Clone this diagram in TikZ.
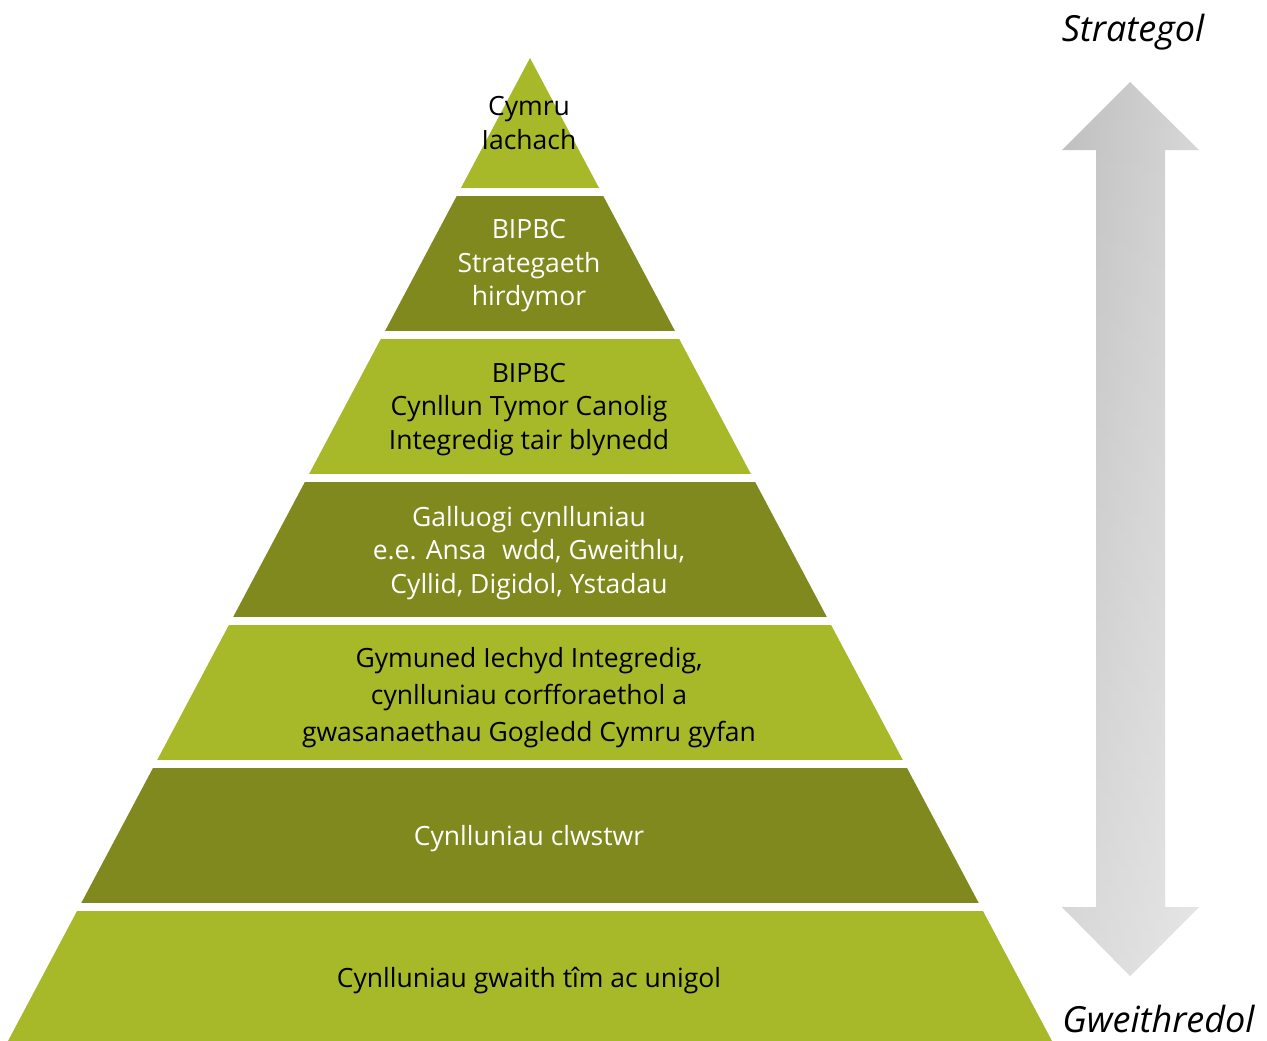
\documentclass[tikz,border=0pt]{standalone}
\usepackage{fontspec}
\setmainfont{Open Sans}
\usetikzlibrary{fadings}
\definecolor{lightolive}{HTML}{A7B829}
\definecolor{darkolive}{HTML}{7F891E}
\definecolor{arrowleft}{HTML}{BFBFBF}
\definecolor{arrowright}{HTML}{D6D6D6}
\newcommand{\myarrowpath}{(1130,82) -- (1199,150) -- (1165,150) -- (1165,907) -- (1199,907) -- (1130,976)
  -- (1062,907) -- (1096,907) -- (1096,150) -- (1062,150) -- cycle}
\begin{document}
\begin{tikzpicture}[x=1pt,y=-1pt,
  bandtext/.style={align=center,font=\fontsize{26.5}{33.5}\selectfont,inner sep=0pt},
  darktext/.style={bandtext,text=white},
  lighttext/.style={bandtext,text=black},
  sidelabel/.style={font=\fontsize{36}{40}\selectfont\itshape,inner sep=0pt}]
\useasboundingbox (0,0) rectangle (1267,1041);
\fill[white] (0,0) rectangle (1267,1041);
% pyramid bands
\begin{scope}
\clip (530,58) -- (8,1041) -- (1052,1041) -- cycle;
\fill[lightolive] (0,50) rectangle (1267,188);
\fill[darkolive] (0,196) rectangle (1267,331);
\fill[lightolive] (0,339) rectangle (1267,474);
\fill[darkolive] (0,482) rectangle (1267,617);
\fill[lightolive] (0,625) rectangle (1267,760);
\fill[darkolive] (0,768) rectangle (1267,903);
\fill[lightolive] (0,911) rectangle (1267,1045);
\end{scope}
% texts
\node[lighttext] (b1) at (529,123) {Cymru\\Iachach};
\node[darktext] (b2) at (529,266) {BIPBC\\Strategaeth\\hirdymor};
\node[lighttext] (b3) at (529,409.5) {BIPBC\\Cynllun Tymor Canolig\\Integredig tair blynedd};
\node[darktext] (b4) at (529,553) {Galluogi cynlluniau\\e.e. Ansa\hspace{0.6em}wdd, Gweithlu,\\Cyllid, Digidol, Ystadau};
\node[lighttext,font=\fontsize{26.5}{37}\selectfont] (b5) at (529,697.5) {Gymuned Iechyd Integredig,\\cynlluniau corfforaethol a\\gwasanaethau Gogledd Cymru gyfan};
\node[darktext] (b6) at (529,839) {Cynlluniau clwstwr};
\node[lighttext] (b7) at (529,981) {Cynlluniau gwaith tîm ac unigol};
% arrow
\shade[left color=arrowleft, right color=arrowright] \myarrowpath;
\fill[white, fill opacity=0.4, path fading=north] \myarrowpath;
\node[sidelabel] (top) at (1133,32) {Strategol};
\node[sidelabel] (bot) at (1158.5,1019) {Gweithredol};
\end{tikzpicture}
\end{document}
